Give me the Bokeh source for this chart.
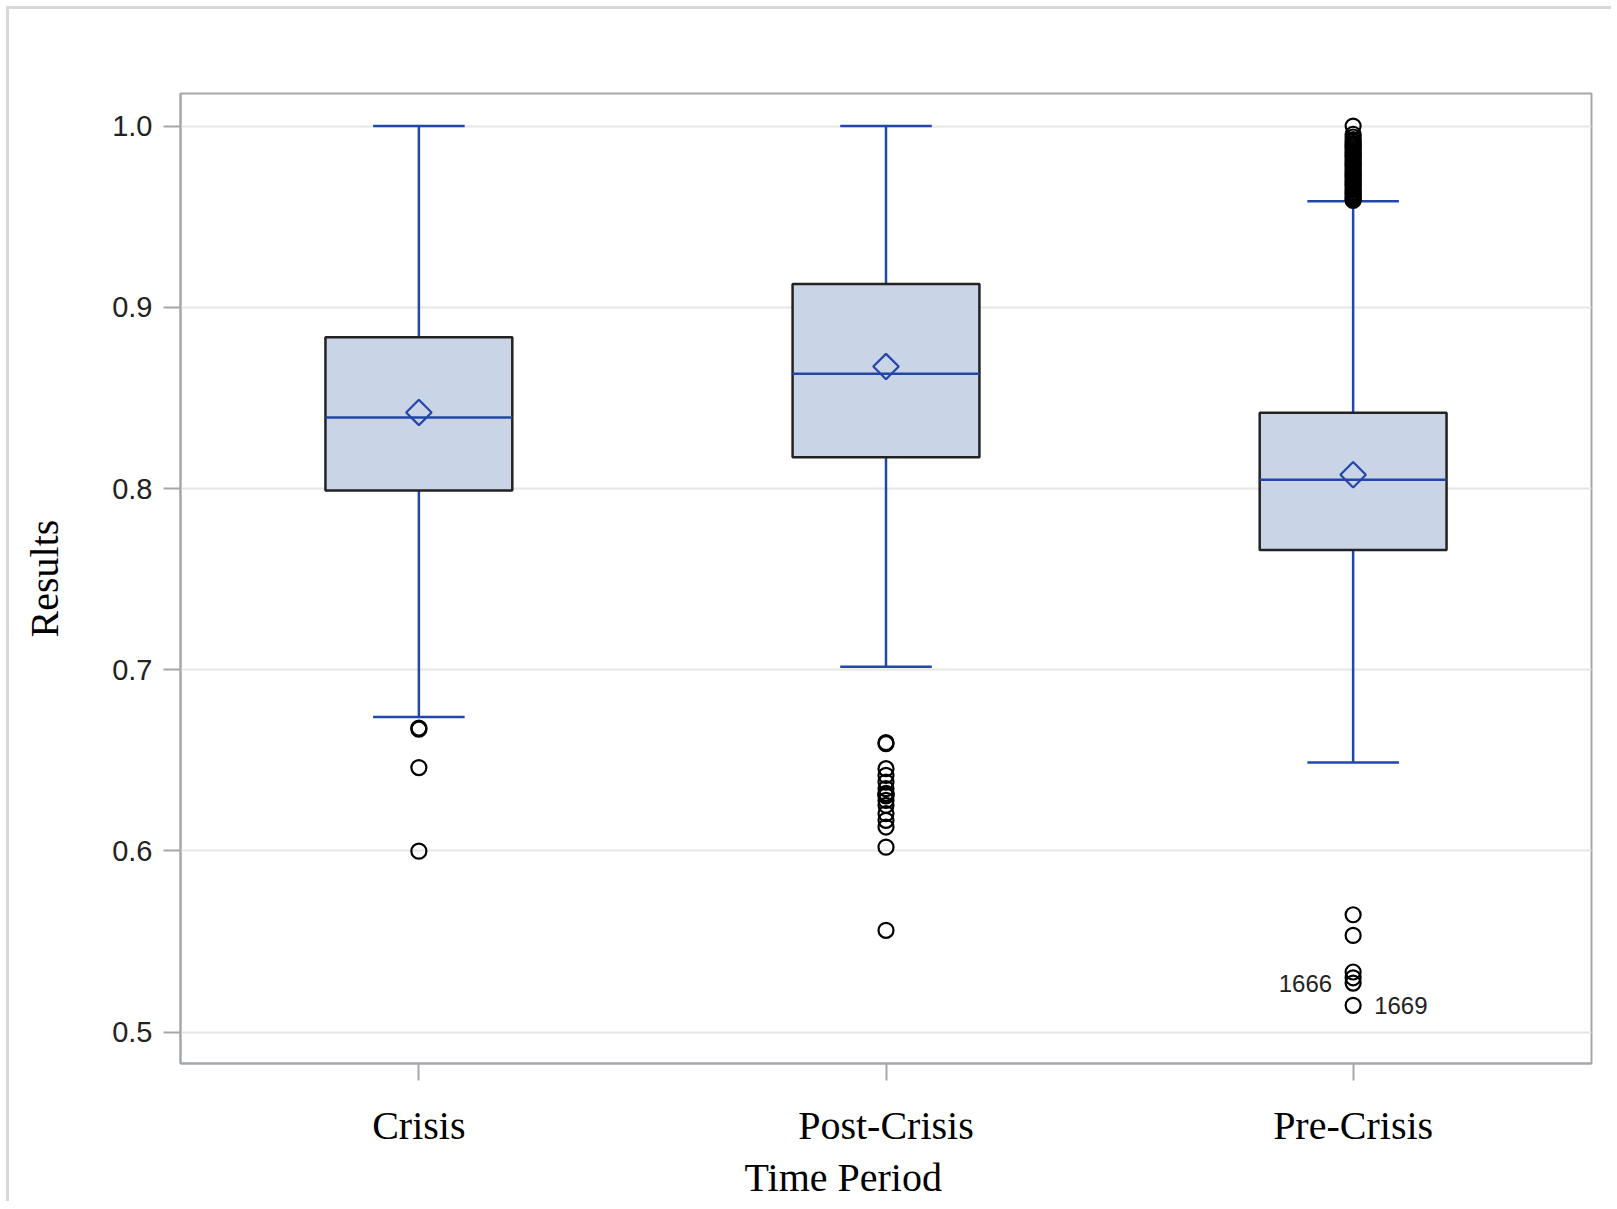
from bokeh.plotting import figure
from bokeh.models import FactorRange, Range1d, FixedTicker, Title, ColumnDataSource, LabelSet
from bokeh.core.properties import value
from bokeh.embed import file_html
from bokeh.resources import INLINE

# Box-plot summary per time period
periods = ["Crisis", "Post-Crisis", "Pre-Crisis"]
whisker_low = [0.6739, 0.7016, 0.6488]
q1 = [0.7989, 0.8173, 0.7661]
median = [0.8392, 0.8634, 0.8048]
q3 = [0.8835, 0.9129, 0.8418]
whisker_high = [1.0, 1.0, 0.9586]
mean = [0.8420, 0.8673, 0.8076]

# Outlying observations
crisis_out = [0.6678, 0.6672, 0.6460, 0.5999]
post_out = [0.6598, 0.6592, 0.6454, 0.6417, 0.6380, 0.6344, 0.6318, 0.6310,
            0.6304, 0.6279, 0.6252, 0.6206, 0.6169, 0.6132, 0.6021, 0.5562]
pre_out = [1.0, 0.9955, 0.9940, 0.9926, 0.9915, 0.9905, 0.9895, 0.9885,
           0.9875, 0.9865, 0.9855, 0.9845, 0.9835, 0.9825, 0.9815, 0.9805,
           0.9795, 0.9785, 0.9775, 0.9765, 0.9755, 0.9745, 0.9735, 0.9725,
           0.9715, 0.9705, 0.9695, 0.9685, 0.9675, 0.9665, 0.9655, 0.9645,
           0.9635, 0.9625, 0.9615, 0.9605, 0.9597, 0.9590,
           0.5648, 0.5534, 0.5332, 0.5300, 0.5271, 0.5148]

# Labelled observations
id_period = ["Pre-Crisis", "Pre-Crisis"]
id_value = [0.5271, 0.5148]
id_text = ["1666", "1669"]
id_side = ["left", "right"]

y_ticks = [0.5, 0.6, 0.7, 0.8, 0.9, 1.0]

BLUE = "#2347A8"
BOX_FILL = "#C9D4E6"
FRAME = "#A3A7AB"

p = figure(
    x_range=FactorRange(*periods, range_padding=0.0103, range_padding_units="absolute"),
    y_range=Range1d(0.4827, 1.018),
    frame_width=1411, frame_height=970,
    min_border_left=171, min_border_top=84,
    min_border_right=20, min_border_bottom=10,
    output_backend="svg", toolbar_location=None,
)
p.margin = (6, 0, 0, 6)
p.styles = {"border-top": "3px solid #d8d8d8", "border-left": "3px solid #d8d8d8"}

p.outline_line_color = FRAME
p.outline_line_width = 2
p.background_fill_color = "white"
p.border_fill_color = "white"

p.xgrid.grid_line_color = None
p.ygrid.grid_line_color = "#E6E6E6"
p.ygrid.grid_line_width = 2

# y axis
p.yaxis.ticker = FixedTicker(ticks=y_ticks)
p.yaxis.major_label_overrides = {t: f"{t:.1f}" for t in y_ticks}
p.yaxis.major_label_text_font = "Liberation Sans"
p.yaxis.major_label_text_font_size = "29px"
p.yaxis.major_label_text_color = "#222222"
p.yaxis.major_label_standoff = 11
p.yaxis.axis_label = "Results"
p.yaxis.axis_label_text_font = "Liberation Serif"
p.yaxis.axis_label_text_font_size = "40px"
p.yaxis.axis_label_text_font_style = "normal"
p.yaxis.axis_label_text_color = "black"
p.yaxis.axis_label_standoff = 42

# x axis
p.xaxis.major_label_text_font = "Liberation Serif"
p.xaxis.major_label_text_font_size = "40px"
p.xaxis.major_label_text_color = "black"
p.xaxis.major_label_standoff = 22

for ax in (p.xaxis, p.yaxis):
    ax.axis_line_color = FRAME
    ax.axis_line_width = 2
    ax.major_tick_line_color = FRAME
    ax.major_tick_line_width = 2
    ax.major_tick_out = 17
    ax.major_tick_in = 0
    ax.minor_tick_line_color = None

p.add_layout(Title(text="Time Period", text_font="Liberation Serif", text_font_size="40px",
                   text_font_style="normal", text_color="black", align="left",
                   offset=564, standoff=4), "below")

src = ColumnDataSource(dict(
    period=periods, lo=whisker_low, q1=q1, med=median, q3=q3, hi=whisker_high, mean=mean,
    left=[(c, -0.2) for c in periods], right=[(c, 0.2) for c in periods],
    cap_l=[(c, -0.098) for c in periods], cap_r=[(c, 0.098) for c in periods],
))

# whisker stems and caps
p.segment(x0="period", y0="q3", x1="period", y1="hi", source=src, line_color=BLUE, line_width=2.5)
p.segment(x0="period", y0="lo", x1="period", y1="q1", source=src, line_color=BLUE, line_width=2.5)
p.segment(x0="cap_l", y0="hi", x1="cap_r", y1="hi", source=src, line_color=BLUE, line_width=2.5)
p.segment(x0="cap_l", y0="lo", x1="cap_r", y1="lo", source=src, line_color=BLUE, line_width=2.5)

# boxes, medians and means
p.vbar(x="period", width=0.4, bottom="q1", top="q3", source=src,
       fill_color=BOX_FILL, line_color="#222222", line_width=2.5)
p.segment(x0="left", y0="med", x1="right", y1="med", source=src, line_color=BLUE, line_width=2.5)
p.scatter(x="period", y="mean", source=src, marker="square", angle=0.785398,
          size=18, fill_color=None, line_color=BLUE, line_width=2.2)

# outliers
out_x = ["Crisis"] * len(crisis_out) + ["Post-Crisis"] * len(post_out) + ["Pre-Crisis"] * len(pre_out)
out_y = crisis_out + post_out + pre_out
p.scatter(x=out_x, y=out_y, marker="circle", size=15, fill_color=None,
          line_color="black", line_width=2.2)

# observation ids
for side, xoff, align in (("left", -21, "right"), ("right", 21, "left")):
    idx = [i for i, s in enumerate(id_side) if s == side]
    lsrc = ColumnDataSource(dict(x=[id_period[i] for i in idx], y=[id_value[i] for i in idx],
                                 t=[id_text[i] for i in idx]))
    p.add_layout(LabelSet(x="x", y="y", text="t", source=lsrc, x_offset=xoff,
                          text_align=align, text_baseline="middle",
                          text_font=value("Liberation Sans"), text_font_size="24px",
                          text_color="#222222"))

open("out.html", "w").write(file_html(p, INLINE))
